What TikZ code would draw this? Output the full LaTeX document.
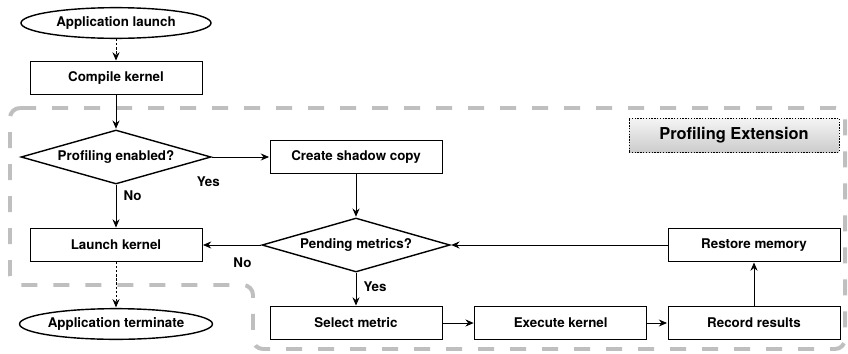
\documentclass[tikz,border=0pt]{standalone}
\usepackage{fontspec}
\setmainfont{TeX Gyre Heros}
\usetikzlibrary{positioning,arrows.meta,shapes.geometric}

\begin{document}
\begin{tikzpicture}[
    font=\bfseries\fontsize{11.4}{13}\selectfont,
    box/.style={rectangle, draw, line width=0.7pt, minimum width=5.16cm, minimum height=0.99cm, align=center, inner sep=2pt},
    terminal/.style={ellipse, draw, line width=1.2pt, minimum width=5.7cm, minimum height=0.92cm, inner sep=0pt},
    decision/.style={diamond, draw, line width=1.2pt, minimum width=5.7cm, minimum height=1.62cm, inner sep=0pt, aspect=3.5},
    arrow/.style={->, >={Stealth[length=7pt, width=6pt]}, line width=0.7pt, shorten >=0.5pt},
    dotarrow/.style={arrow, dashed, dash pattern=on 2pt off 1.5pt},
    region/.style={draw=gray!50, line width=3.4pt, dash pattern=on 0.48cm off 0.48cm, rounded corners=0.3cm}
]
\useasboundingbox (0,0) rectangle (25.44,-10.59);

% Profiling extension region (drawn first, behind everything)
\draw[region] (0.3,-3.24) -- (25.35,-3.24) -- (25.35,-10.47) -- (7.59,-10.47) -- (7.59,-8.55) -- (0.3,-8.55) -- cycle;
\node[draw, dashed, dash pattern=on 1.2pt off 1.2pt, line width=0.6pt, top color=gray!8, bottom color=gray!40, minimum width=6.3cm, minimum height=1.02cm, font=\bfseries\fontsize{14}{16}\selectfont] (ext) at (22.02,-4.05) {Profiling Extension};

% Main pipeline (left column)
\node[terminal] (start) at (3.48,-0.69) {Application launch};
\node[box] (compile) at (3.48,-2.34) {Compile kernel};
\node[decision] (enabled) at (3.48,-4.71) {Profiling enabled?};
\node[box] (launch) at (3.48,-7.35) {Launch kernel};
\node[terminal] (stop) at (3.48,-9.72) {Application terminate};

% Profiling loop
\node[box] (shadow) at (10.68,-4.71) {Create shadow copy};
\node[decision, minimum width=5.64cm] (pending) at (10.68,-7.35) {Pending metrics?};
\node[box] (select) at (10.68,-9.69) {Select metric};
\node[box] (execute) at (16.82,-9.69) {Execute kernel};
\node[box] (record) at (22.62,-9.69) {Record results};
\node[box] (restore) at (22.62,-7.35) {Restore memory};

% Arrows
\draw[dotarrow] (start.south) -- (compile.north);
\draw[arrow] (compile.south) -- (enabled.north);
\draw[arrow] (enabled.east) -- node[pos=0, below=0.45cm, xshift=-0.1cm] {Yes} (shadow.west);
\draw[arrow] (enabled.south) -- node[pos=0.25, right=0.1cm] {No} (launch.north);
\draw[arrow] (shadow.south) -- (pending.north);
\draw[arrow] (pending.west) -- node[pos=0.32, below=0.25cm] {No} (launch.east);
\draw[arrow] (pending.south) -- node[pos=0.43, right=0.1cm] {Yes} (select.north);
\draw[arrow] (select.east) -- (execute.west);
\draw[arrow] (execute.east) -- (record.west);
\draw[arrow] (record.north) -- (restore.south);
\draw[arrow] (restore.west) -- (pending.east);
\draw[dotarrow] (launch.south) -- (stop.north);

\end{tikzpicture}
\end{document}
